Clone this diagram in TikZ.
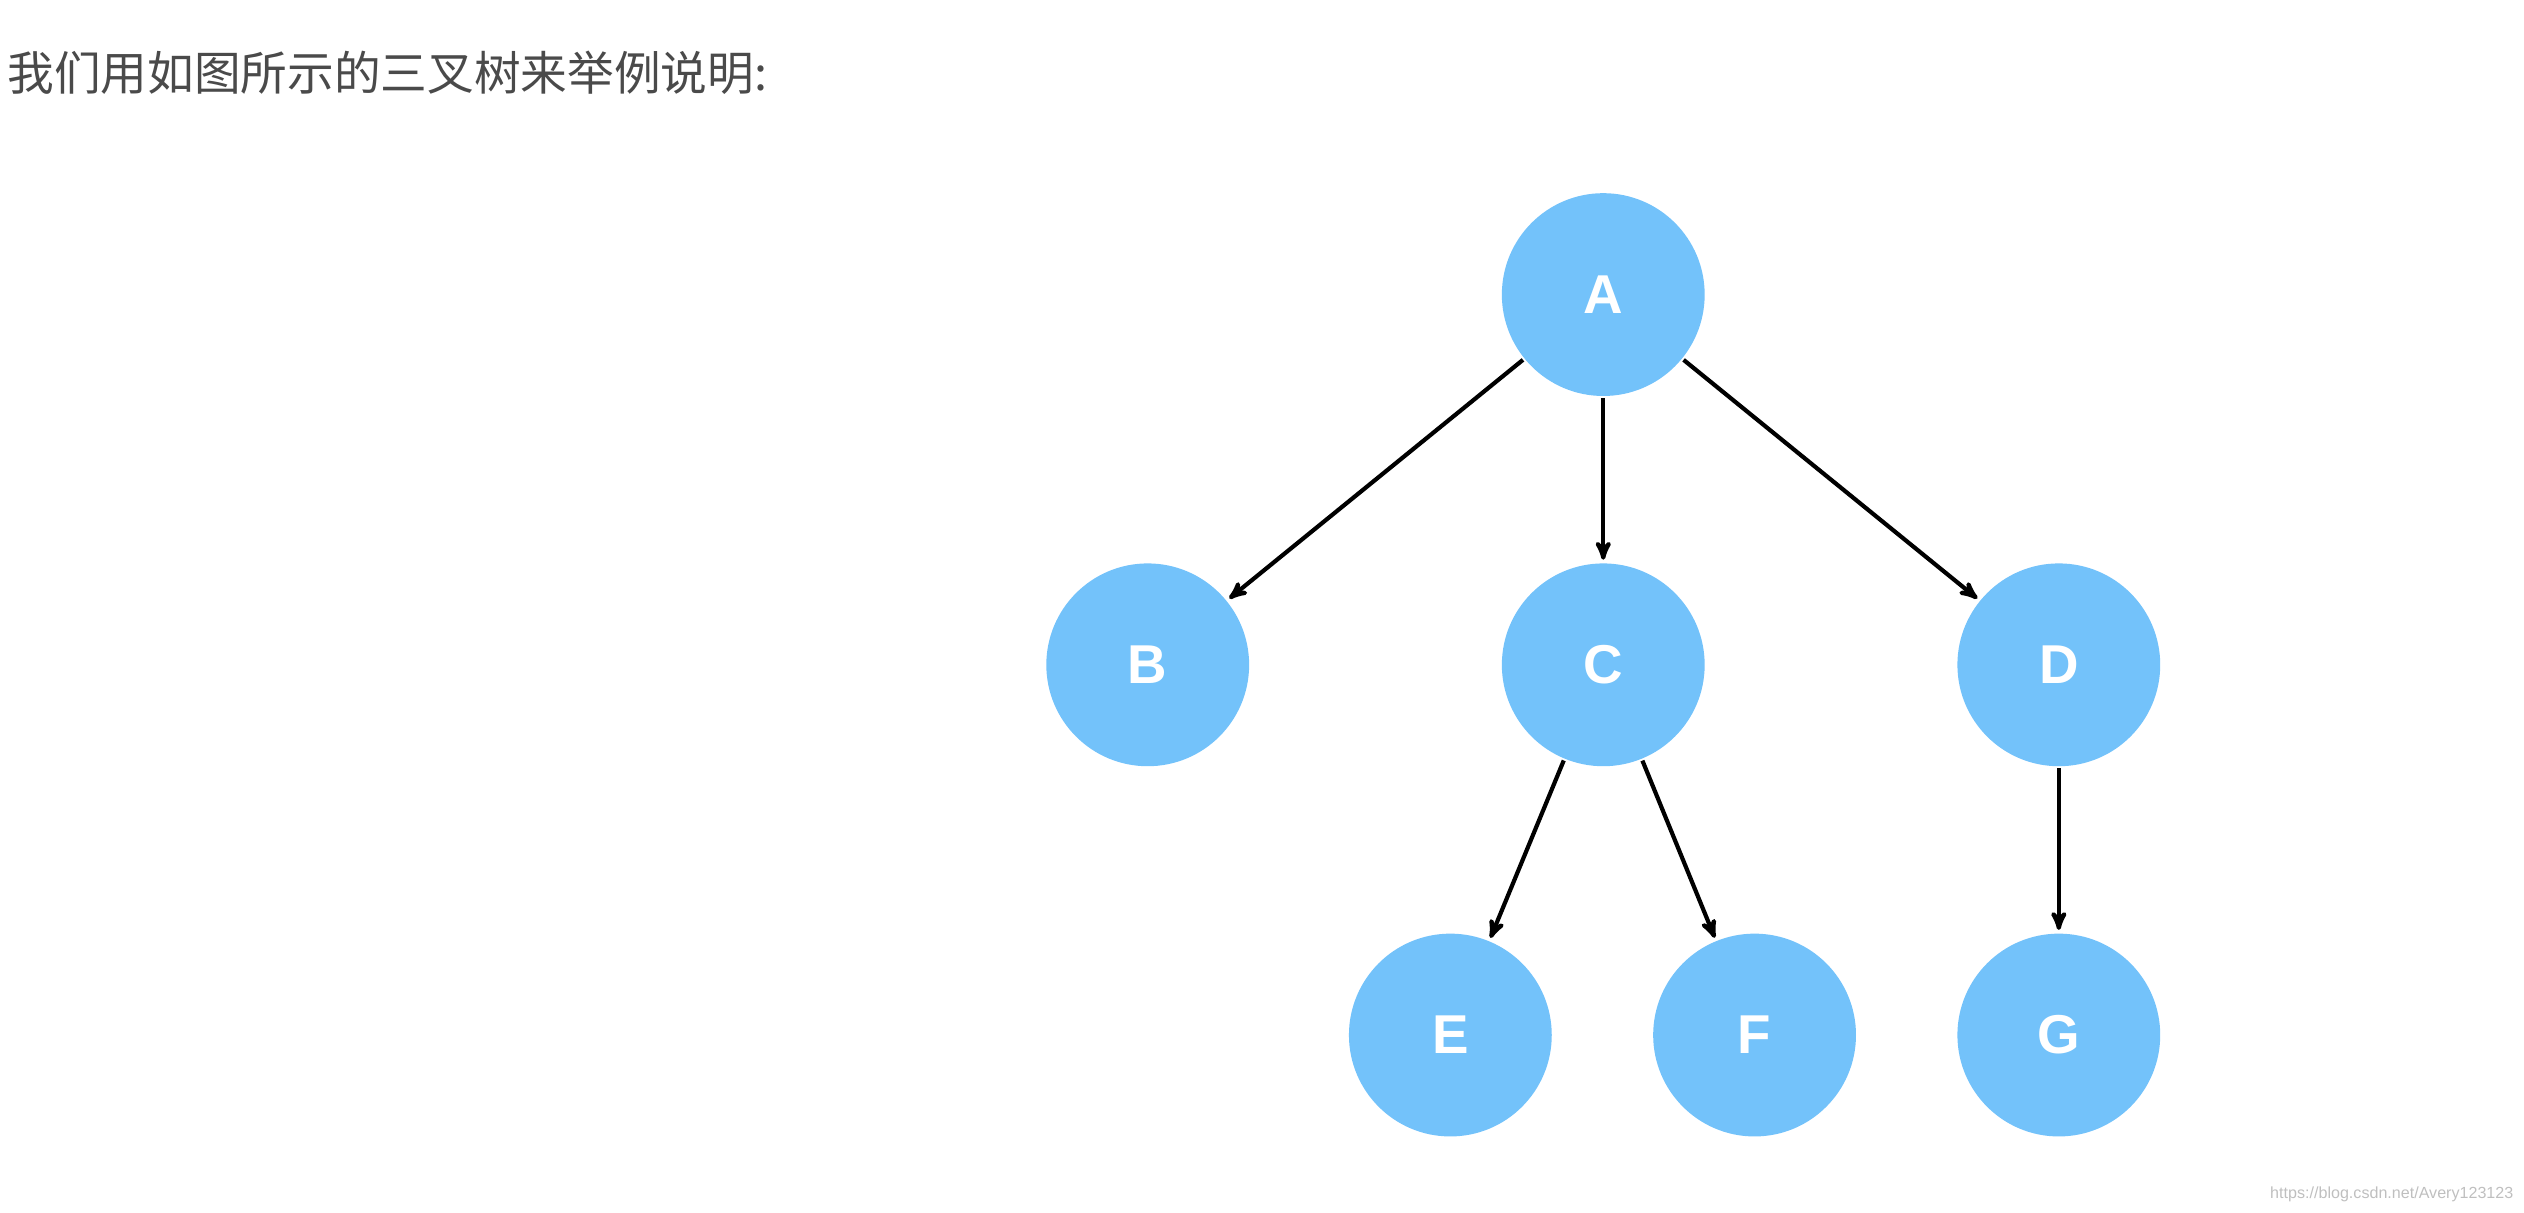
\documentclass[tikz,border=0pt]{standalone}
\usepackage{fontspec}
\setmainfont{Liberation Sans}
\newfontfamily\cjk{Noto Sans CJK SC}
\usetikzlibrary{arrows}
\definecolor{nodeblue}{HTML}{73C2FA}
\definecolor{titlegray}{HTML}{4A4A4A}
\begin{document}
\begin{tikzpicture}[x=1pt,y=-1pt,->,>=stealth',shorten >=1pt,
		line width=2.6pt]
		\tikzstyle{every node}=[font=\fontsize{34}{34}\selectfont\bfseries]
		\tikzstyle{tree node}=[circle,fill=nodeblue,text=white,minimum size=126pt,inner sep=0pt]
		\useasboundingbox (0,0) rectangle (1568,753);
		
		\node[anchor=west,text=titlegray,font=\fontsize{29}{29}\selectfont\cjk] (title) at (0,45) {我们用如图所示的三叉树来举例说明:};
		
		\node[tree node] (nA) at (996,183) {A};
		\node[tree node] (nB) at (713,413) {B};
		\node[tree node] (nC) at (996,413) {C};
		\node[tree node] (nD) at (1279,413) {D};
		\node[tree node] (nE) at (901,643) {E};
		\node[tree node] (nF) at (1090,643) {F};
		\node[tree node] (nG) at (1279,643) {G};
		
		\path (nA) edge (nB)
		(nA) edge (nC)
		(nA) edge (nD)
		(nC) edge (nE)
		(nC) edge (nF)
		(nD) edge (nG);
		
		\node[anchor=south east,text=black!25,font=\fontsize{10}{10}\selectfont] (mark) at (1566,751) {https://blog.csdn.net/Avery123123};
\end{tikzpicture}
\end{document}
